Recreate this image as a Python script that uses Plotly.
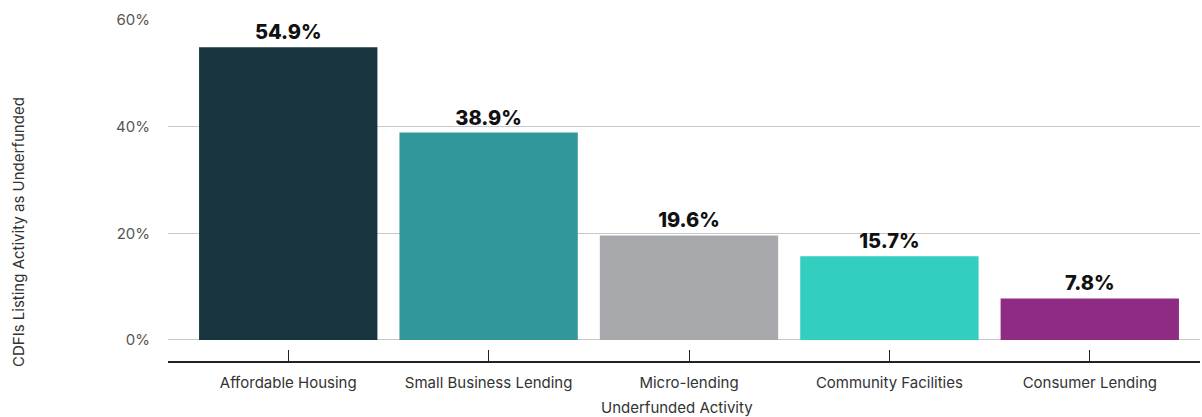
import plotly.graph_objects as go

# Share of CDFIs naming each activity as underfunded
activities = ["Affordable Housing", "Small Business Lending", "Micro-lending",
              "Community Facilities", "Consumer Lending"]
shares = [54.9, 38.9, 19.6, 15.7, 7.8]
bar_colors = ["#17343F", "#32979B", "#A8A9AC", "#32CFC1", "#8E2C84"]
y_ticks = [0, 20, 40, 60]
y_tick_labels = ["0%", "20%", "40%", "60%"]

FONT = "Inter, Lato, sans-serif"

fig = go.Figure(
    go.Bar(
        x=list(range(len(activities))),
        y=shares,
        width=0.89,
        marker=dict(color=bar_colors, line=dict(width=0)),
        text=[f"{v:.1f}%" for v in shares],
        textposition="outside",
        textfont=dict(family=FONT, size=20, color="#111111", weight=800),
        cliponaxis=False,
        hoverinfo="skip",
    )
)

fig.update_layout(
    width=1202,
    height=417,
    margin=dict(l=168, r=2, t=20, b=56),
    paper_bgcolor="white",
    plot_bgcolor="white",
    showlegend=False,
    font=dict(family=FONT, size=15, color="#333333"),
    xaxis=dict(
        range=[-0.6, 4.55],
        tickmode="array",
        tickvals=list(range(len(activities))),
        ticktext=activities,
        showgrid=False,
        zeroline=False,
        showline=True,
        linecolor="#222222",
        linewidth=1.5,
        ticks="inside",
        ticklen=11,
        tickwidth=1.2,
        tickcolor="#222222",
        ticklabelstandoff=7,
        tickfont=dict(family=FONT, size=15, color="#333333"),
    ),
    yaxis=dict(
        range=[-3.94, 60],
        tickmode="array",
        tickvals=y_ticks,
        ticktext=y_tick_labels,
        showgrid=True,
        gridcolor="#C8C8C8",
        gridwidth=1,
        zeroline=False,
        showline=False,
        ticks="",
        ticklabelstandoff=17,
        tickfont=dict(family=FONT, size=15, color="#555555"),
    ),
    annotations=[
        dict(
            text="Underfunded Activity",
            xref="paper", yref="paper",
            x=(677 - 168) / 1032, y=-(408 - 361) / 341,
            xanchor="center", yanchor="middle",
            showarrow=False,
            font=dict(family=FONT, size=15, color="#333333"),
        ),
        dict(
            text="CDFIs Listing Activity as Underfunded",
            xref="paper", yref="paper",
            x=-(168 - 18) / 1032, y=(361 - 232) / 341,
            xanchor="center", yanchor="middle",
            textangle=-90,
            showarrow=False,
            font=dict(family=FONT, size=15, color="#333333"),
        ),
    ],
)

fig.write_html("out.html")
